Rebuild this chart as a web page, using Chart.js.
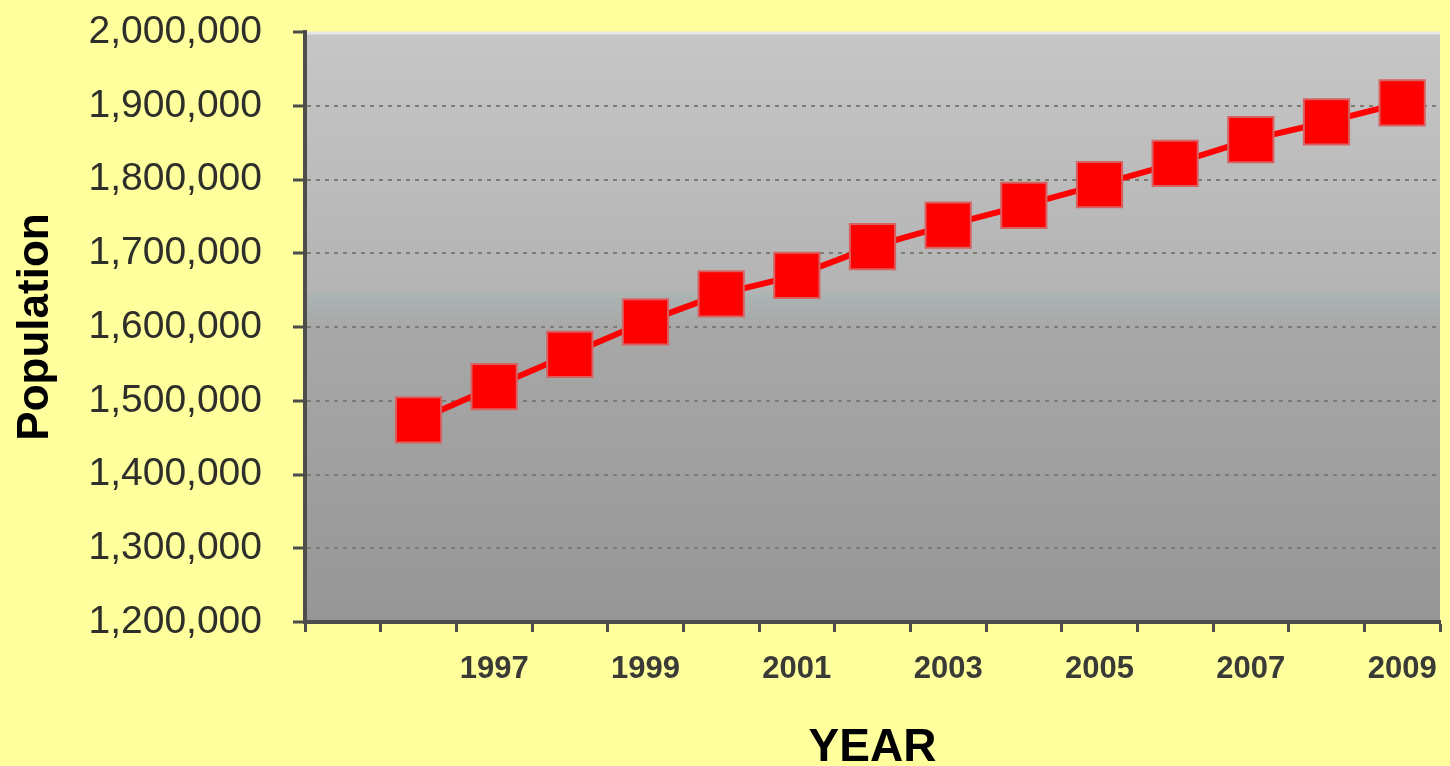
<!DOCTYPE html>
<html>
<head>
<meta charset="utf-8">
<script src="https://cdn.jsdelivr.net/npm/chart.js@4.4.1/dist/chart.umd.min.js"></script>
<style>
  html, body { margin: 0; padding: 0; background: #FFFF9E; }
  #wrap { width: 1450px; height: 766px; position: relative; }
</style>
</head>
<body>
<div id="wrap"><canvas id="c"></canvas></div>
<script>
const years = ['', '1996', '1997', '1998', '1999', '2000', '2001', '2002', '2003', '2004', '2005', '2006', '2007', '2008', '2009'];
const population = [null, 1474000, 1519000, 1563000, 1607000, 1645000, 1670000, 1709000, 1738000, 1765000, 1793000, 1822000, 1854000, 1878000, 1904000];
const yMin = 1200000;
const yMax = 2000000;
const yStep = 100000;
const xTitle = 'YEAR';
const yTitle = 'Population';

const plotBg = {
  id: 'plotBg',
  beforeDraw(chart) {
    const { ctx, chartArea: a } = chart;
    ctx.save();
    const g = ctx.createLinearGradient(0, a.top, 0, a.bottom);
    g.addColorStop(0, '#c6c6c6');
    g.addColorStop(0.44, '#b4b4b4');
    g.addColorStop(0.445, '#abb3b3');
    g.addColorStop(0.5, '#a8a8a8');
    g.addColorStop(1, '#969696');
    ctx.fillStyle = g;
    ctx.fillRect(a.left, a.top, a.right - a.left, a.bottom - a.top);
    ctx.strokeStyle = '#e8e6e2';
    ctx.lineWidth = 3;
    ctx.beginPath();
    ctx.moveTo(a.left, a.top + 1);
    ctx.lineTo(a.right, a.top + 1);
    ctx.stroke();
    ctx.restore();
  }
};

new Chart(document.getElementById('c'), {
  type: 'line',
  data: {
    labels: years,
    datasets: [{
      data: population,
      borderColor: '#FF0000',
      borderWidth: 6,
      backgroundColor: '#FF0000',
      pointStyle: 'rect',
      pointRadius: 32,
      pointHoverRadius: 32,
      pointBorderColor: '#d86262',
      pointBorderWidth: 2,
      pointBackgroundColor: '#FF0000',
      tension: 0,
      spanGaps: false,
      clip: false
    }]
  },
  options: {
    responsive: true,
    maintainAspectRatio: false,
    animation: false,
    events: [],
    layout: { autoPadding: false, padding: { top: 32, right: 10, left: 0, bottom: 0 } },
    plugins: { legend: { display: false }, tooltip: { enabled: false } },
    scales: {
      x: {
        type: 'category',
        offset: true,
        afterFit(s) { s.height = 144; s.paddingLeft = 0; s.paddingRight = 0; },
        grid: {
          offset: true,
          drawOnChartArea: false,
          drawTicks: true,
          tickLength: 10,
          tickColor: '#4d4d4b',
          tickWidth: 3
        },
        border: { display: true, color: '#4d4d4b', width: 4 },
        ticks: {
          autoSkip: false,
          maxRotation: 0,
          padding: 19,
          color: '#3a3a36',
          font: { family: 'Liberation Sans, Arial, sans-serif', size: 31, weight: 'bold' },
          callback(v, i) { return i % 2 === 0 ? years[i] : ''; }
        },
        title: {
          display: true,
          text: xTitle,
          color: '#000000',
          padding: { top: 0, bottom: -5 },
          font: { family: 'Liberation Sans, Arial, sans-serif', size: 46, weight: 'bold', lineHeight: 1 }
        }
      },
      y: {
        min: yMin,
        max: yMax,
        afterFit(s) { s.width = 305; s.paddingTop = 0; s.paddingBottom = 0; },
        grid: {
          color(ctx) { return ctx.tick && ctx.tick.value === yMax ? 'rgba(0,0,0,0)' : '#7c7c70'; },
          lineWidth: 2,
          drawTicks: true,
          tickLength: 12,
          tickColor: '#4d4d4b',
          tickWidth: 3,
          tickBorderDash: [],
        },
        border: { display: true, color: '#4d4d4b', width: 4, dash: [4, 5] },
        ticks: {
          stepSize: yStep,
          padding: 31,
          color: '#2e2e2a',
          font: { family: 'Liberation Sans, Arial, sans-serif', size: 39 },
          callback(v) { return Number(v).toLocaleString('en-US'); }
        },
        title: {
          display: true,
          text: yTitle,
          color: '#000000',
          padding: { top: 9, bottom: 0 },
          font: { family: 'Liberation Sans, Arial, sans-serif', size: 44, weight: 'bold', lineHeight: 1.2 }
        }
      }
    }
  },
  plugins: [plotBg]
});
</script>
</body>
</html>
